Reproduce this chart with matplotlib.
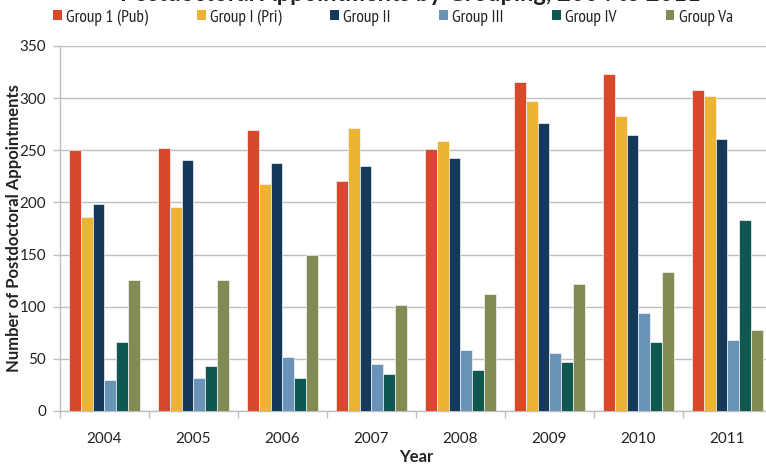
import numpy as np
import matplotlib
matplotlib.use("Agg")
import matplotlib.pyplot as plt
from matplotlib.patches import Patch

plt.rcParams['font.family'] = ['PT Sans Narrow', 'Lato', 'DejaVu Sans']
WIDE = ['Lato', 'DejaVu Sans']

years = ['2004', '2005', '2006', '2007', '2008', '2009', '2010', '2011']
series_names = ['Group 1 (Pub)', 'Group I (Pri)', 'Group II', 'Group III', 'Group IV', 'Group Va']
group1_pub = [250, 252, 269, 221, 251, 315, 323, 308]
group1_pri = [186, 196, 218, 271, 259, 297, 283, 302]
group2 = [198, 241, 238, 235, 243, 276, 265, 261]
group3 = [30, 32, 52, 45, 58, 56, 94, 68]
group4 = [66, 43, 32, 35, 39, 47, 66, 183]
group5a = [126, 126, 150, 102, 112, 122, 133, 78]
colors = ['#D9482A', '#EDB334', '#14395A', '#6A93B8', '#115751', '#818C55']

values = [group1_pub, group1_pri, group2, group3, group4, group5a]

fig = plt.figure(figsize=(7.66, 4.67), dpi=100)
ax = fig.add_axes([0.0783, 0.12, 0.9295, 0.7815])

x = np.arange(len(years))
n = len(values)
total_w = 0.8
w = total_w / n
for i, (vals, c) in enumerate(zip(values, colors)):
    ax.bar(x - total_w / 2 + w * (i + 0.5), vals, width=w, color=c,
           edgecolor='#F4F4F4', linewidth=0.5, zorder=3)

ax.set_xlim(-0.5, len(years) - 0.5)
ax.set_ylim(0, 350)
ax.set_yticks(range(0, 351, 50))
ax.yaxis.grid(True, color='#BFBFBF', linewidth=1.0, zorder=0)
ax.set_axisbelow(True)

ax.set_xticks(x)
ax.set_xticklabels(years, fontsize=11, color='#222222', family=WIDE)
ax.tick_params(axis='x', length=0, pad=15)
ax.set_xticks(np.arange(-0.5, len(years)), minor=True)
ax.tick_params(axis='x', which='minor', length=5, color='#BFBFBF', width=1)
ax.tick_params(axis='y', length=5, color='#BFBFBF', width=1,
               labelcolor='#222222', pad=5)
for lbl in ax.get_yticklabels():
    lbl.set_fontsize(11)
    lbl.set_family(WIDE)

for s in ['top', 'right']:
    ax.spines[s].set_visible(False)
for s in ['left', 'bottom']:
    ax.spines[s].set_color('#BFBFBF')
    ax.spines[s].set_linewidth(1.0)

ax.set_ylabel('Number of Postdoctoral Appointments', fontsize=12,
              fontweight='bold', color='#222222', family=WIDE)
ax.yaxis.set_label_coords(-0.054, 0.5)
ax.set_xlabel('Year', fontsize=12, fontweight='bold', color='#222222', family=WIDE)
ax.xaxis.set_label_coords(0.5, -0.105)

handles = [Patch(facecolor=c, edgecolor='none') for c in colors]
fig.legend(handles, series_names, loc='center', bbox_to_anchor=(0.513, 0.963),
           ncol=6, frameon=False, fontsize=12.5, handlelength=0.5, handleheight=0.5,
           handletextpad=0.25, columnspacing=2.8, labelcolor='#222222')

fig.text(0.157, 1 - 1 / 467, 'Postdoctoral Appointments by Grouping, 2004 to 2011',
         fontsize=17, fontweight='bold', color='#222222', va='baseline', ha='left',
         family=WIDE)

fig.savefig('out.png', dpi=100)
